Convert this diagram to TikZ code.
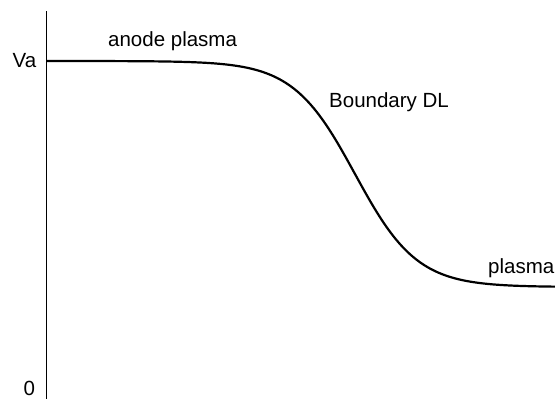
\documentclass[tikz,border=0pt]{standalone}
\usepackage{fontspec}
\setmainfont{Liberation Sans}
\begin{document}
\begin{tikzpicture}[x=1pt,y=-1pt,
  lbl/.style={anchor=base west,inner sep=0pt,font=\fontsize{20.5}{24}\selectfont},
  axisline/.style={line width=1.3pt},
  potcurve/.style={line width=2.2pt}]
\useasboundingbox (0,0) rectangle (555,399);
\coordinate (atop) at (46.5,11);
\coordinate (abot) at (46.5,399);
\draw[axisline] (atop) -- (abot);
\draw[potcurve] plot[domain=46.5:556,samples=220,smooth] (\x,{61+113*(1+tanh((\x-355)/62))});
\node[lbl] (va) at (12.5,67) {Va};
\node[lbl] (zero) at (23.5,395) {0};
\node[lbl] (anode) at (108,46) {anode plasma};
\node[lbl] (bdl) at (329,107) {Boundary DL};
\node[lbl] (pl) at (488,273) {plasma};
\end{tikzpicture}
\end{document}
